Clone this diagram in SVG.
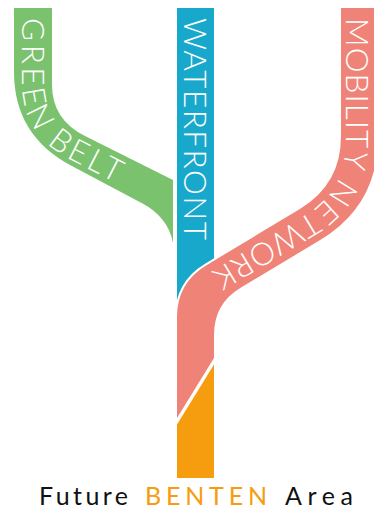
<svg xmlns="http://www.w3.org/2000/svg" width="374" height="513" viewBox="0 0 374 513">
<style>
.lbl{font-family:Lato,"Liberation Sans",sans-serif;font-weight:300;font-size:31.5px;fill:#ffffff}
.cap{font-family:Lato,"Liberation Sans",sans-serif;font-weight:400;font-size:25px}
</style>
<defs>
<path id="gPath" d="M21.7,18 V80 Q21.7,134.8 70.2,159.6 L200,226.4"/>
<path id="pPath" d="M345.7,18 V141.6 Q345.7,190.6 304.2,215.6 L190,284.5"/>
</defs>
<rect width="374" height="513" fill="#ffffff"/>
<g id="green-belt">
<path d="M14,8 H52 V85 Q52,119.5 85,136 L173,180 V243 C170,225 158,212 143,203.8 L71.4,165.8 Q14,135.4 14,72 Z" fill="#7bc26f"/>
<text class="lbl"><textPath href="#gPath" textLength="212" lengthAdjust="spacing">GREEN BELT</textPath></text>
</g>
<g id="waterfront">
<rect x="177" y="8" width="37" height="315" fill="#17a8cc"/>
<text class="lbl" transform="translate(184.2,18) rotate(90)" textLength="222" lengthAdjust="spacing">WATERFRONT</text>
</g>
<g id="future-benten">
<path d="M177,424.5 L214,364.5 V478 H177 Z" fill="#f59d0e"/>
</g>
<g id="mobility-network">
<path d="M341,8 V136.3 Q341,184.3 299.9,209 L206.1,265.4 Q177,282.9 177,316.9 V418 L214,358 V334.8 Q214,303.8 240.6,287.8 L319.7,240.3 Q378,205.3 378,137.3 V8 Z" fill="#ef8377" stroke="#ffffff" stroke-width="4" paint-order="stroke"/>
<text class="lbl"><textPath href="#pPath" textLength="322" lengthAdjust="spacing">MOBILITY NETWORK</textPath></text>
</g>
<g id="caption">
<text class="cap" y="505"><tspan x="39" fill="#111111" textLength="89" lengthAdjust="spacing">Future</tspan><tspan x="145" fill="#f59d0e" textLength="122" lengthAdjust="spacing">BENTEN</tspan><tspan x="285" fill="#111111" textLength="68" lengthAdjust="spacing">Area</tspan></text>
</g>
</svg>
